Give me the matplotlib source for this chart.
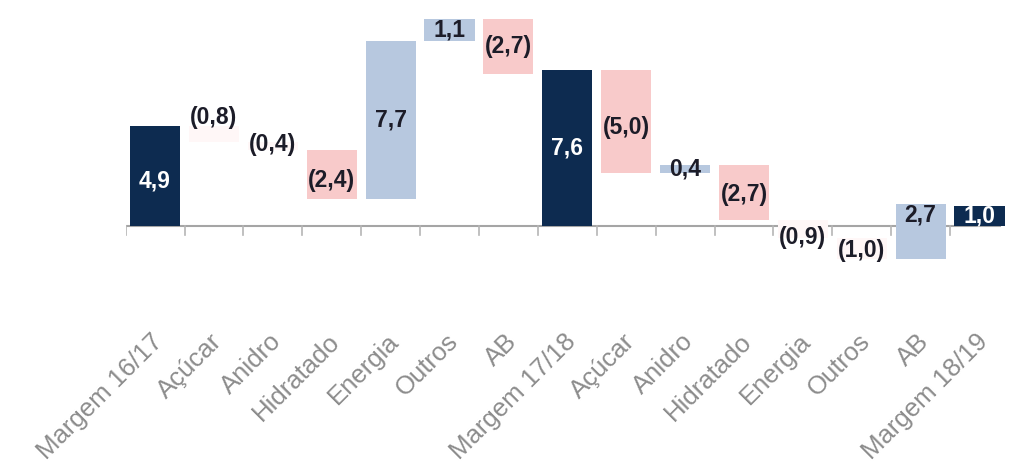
import matplotlib
matplotlib.use("Agg")
import matplotlib.pyplot as plt
import matplotlib.transforms as mtransforms
import numpy as np

# Waterfall: margin bridge between seasons
categories = ["Margem 16/17", "Açúcar", "Anidro", "Hidratado", "Energia", "Outros", "AB",
              "Margem 17/18", "Açúcar", "Anidro", "Hidratado", "Energia", "Outros", "AB",
              "Margem 18/19"]
values = [4.9, -0.8, -0.4, -2.4, 7.7, 1.1, -2.7,
          7.6, -5.0, 0.4, -2.7, -0.9, -1.0, 2.7,
          1.0]
is_total = [True, False, False, False, False, False, False,
            True, False, False, False, False, False, False,
            True]
# Some step bars are printed very faintly
faint = [False, True, True, False, False, False, False,
         False, False, False, False, True, True, False,
         False]
# Vertical nudge of a few value labels (in data units)
label_nudge = [-0.25, 0.8, 0.1, -0.3, 0, 0, 0,
               0, -0.3, 0, -0.1, -0.4, -0.1, 0.8,
               0]

NAVY = "#0d2b50"
LIGHT_BLUE = "#b7c8df"
PINK = "#f8caca"
FAINT = "#fff7f7"

plt.rcParams["font.family"] = ["Liberation Sans", "DejaVu Sans"]

fig = plt.figure(figsize=(10.13, 4.70), dpi=100)
ax = fig.add_axes([0.124, 0.303, 0.872, 0.696])

bottoms, heights, colors = [], [], []
running = 0.0
for v, tot, fnt in zip(values, is_total, faint):
    if tot:
        bottoms.append(0.0)
        heights.append(v)
        colors.append(NAVY)
        running = v
    else:
        bottoms.append(running if v >= 0 else running + v)
        heights.append(abs(v))
        colors.append(FAINT if fnt else (LIGHT_BLUE if v >= 0 else PINK))
        running += v

x = np.arange(len(categories))
ax.bar(x, heights, bottom=bottoms, width=0.85, color=colors, zorder=3)

# Baseline with category separators
ax.plot([-0.5, 14.35], [0, 0], color="#a5a5a5", lw=1.5, zorder=2)
for b in np.arange(-0.5, 14.0, 1.0):
    ax.plot([b, b], [0, -0.45], color="#b5b5b5", lw=1.2, zorder=2)

def fmt(v):
    s = f"{abs(v):.1f}".replace(".", ",")
    return f"({s})" if v < 0 else s

for xi, b, h, v, tot, dy in zip(x, bottoms, heights, values, is_total, label_nudge):
    ax.text(xi, b + h / 2 + dy, fmt(v), ha="center", va="center",
            fontsize=16.5, fontweight="bold",
            color="white" if tot else "#1c1c28", zorder=4)

ax.set_xlim(-0.5, 14.5)
ax.set_ylim(-4.95, 11)
ax.set_xticks(x)
ax.set_xticklabels(categories, rotation=45, ha="right", rotation_mode="anchor",
                   fontsize=18.5, color="#8c8c8c")
ax.tick_params(axis="x", length=0, pad=1)
shift = mtransforms.ScaledTranslation(-4 / 100, 0, fig.dpi_scale_trans)
for lbl in ax.get_xticklabels():
    lbl.set_transform(lbl.get_transform() + shift)
ax.set_yticks([])
for s in ax.spines.values():
    s.set_visible(False)

fig.savefig("out.png", dpi=100)
